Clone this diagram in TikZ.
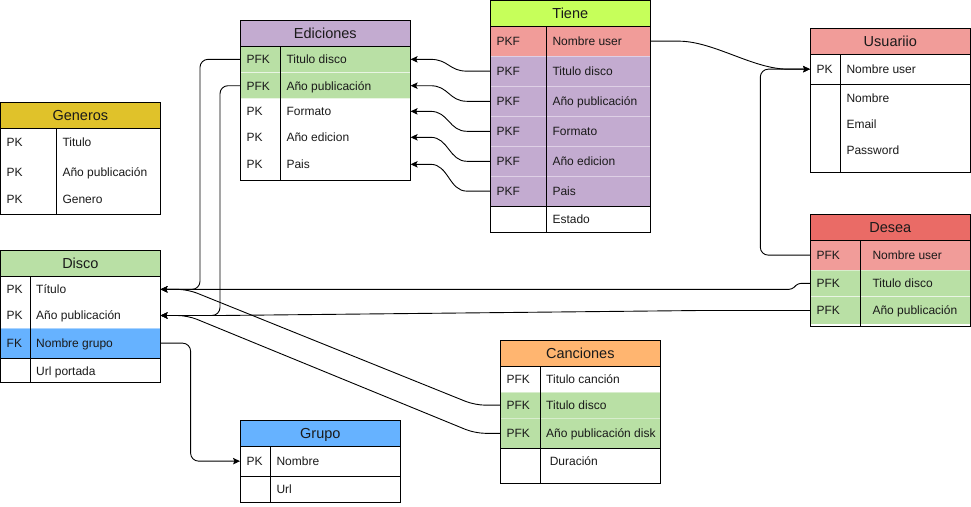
\documentclass[tikz,border=0pt]{standalone}
\usepackage{fontspec}
\setmainfont{Liberation Sans}
\usetikzlibrary{arrows.meta,calc}
\definecolor{cpurple}{HTML}{C3ABD0}
\definecolor{cgreen}{HTML}{B9E0A5}
\definecolor{credl}{HTML}{F19C99}
\definecolor{cred}{HTML}{EA6B66}
\definecolor{corange}{HTML}{FFB570}
\definecolor{cblue}{HTML}{66B2FF}
\definecolor{cgold}{HTML}{E0C22A}
\definecolor{clime}{HTML}{C6FF5A}
\definecolor{ctext}{HTML}{1A1A1A}
\newcommand{\tL}{0}\newcommand{\tR}{0}\newcommand{\tD}{0}\newcommand{\tF}{6}
\newcommand{\SetTab}[4]{\renewcommand{\tL}{#1}\renewcommand{\tR}{#2}\renewcommand{\tD}{#3}\renewcommand{\tF}{#4}}
\newcommand{\Head}[5]{%
  \node[headbox, fill=#4, minimum width={\tR-\tL}, minimum height={#3-#2}] (#1) at ({(\tL+\tR)/2},{(#2+#3)/2}) {#5};}
\newcommand{\Row}[6]{%
  \node[rowbox, fill=#4, minimum width={\tR-\tL}, minimum height={#3-#2}] (#1) at ({(\tL+\tR)/2},{(#2+#3)/2}) {};
  \node[rowtxt] (#1k) at ({\tL+6},{(#2+#3)/2+4.3}) {#5};
  \node[rowtxt] (#1f) at ({\tD+\tF},{(#2+#3)/2+4.3}) {#6};}
\newcommand{\Frame}[3]{%
  \draw[tline] (\tL,#1) rectangle (\tR,#3);
  \draw[tline] (\tL,#2) -- (\tR,#2);
  \draw[tline] (\tD,#2) -- (\tD,#3);}
\newcommand{\HLine}[1]{\draw[tline] (\tL,#1) -- (\tR,#1);}
\begin{document}
\begin{tikzpicture}[x=1pt,y=-1pt,
  headbox/.style={draw=none, inner sep=0pt, text height=10.4pt, text depth=0pt,
    font=\fontsize{14.5}{16}\selectfont, text=ctext},
  rowbox/.style={draw=white, draw opacity=0.45, line width=0.6pt, inner sep=0pt},
  rowtxt/.style={anchor=base west, inner sep=0pt, font=\fontsize{12}{14}\selectfont, text=ctext},
  tline/.style={draw=black, line width=1pt},
  conn/.style={draw=black, line width=0.9pt, -{Stealth[length=7pt,width=6.5pt,inset=1.5pt]}}]
\useasboundingbox (0,0) rectangle (971,506);

% ---------- Ediciones ----------
\SetTab{240.3}{410.3}{280.3}{6}
\Head{ed}{20.3}{46}{cpurple}{Ediciones}
\Row{ed1}{46}{72.7}{cgreen}{PFK}{Titulo disco}
\Row{ed2}{72.7}{98.7}{cgreen}{PFK}{Año publicación}
\Row{ed3}{98.7}{124}{none}{PK}{Formato}
\Row{ed4}{124.3}{150.3}{none}{PK}{Año edicion}
\Row{ed5}{151.3}{177.3}{none}{PK}{Pais}
\Frame{20.3}{46}{180.3}

% ---------- Generos ----------
\SetTab{0.5}{160.3}{56.7}{5.6}
\Head{ge}{102.7}{128.3}{cgold}{Generos}
\Row{ge1}{128.3}{157}{none}{PK}{Titulo}
\Row{ge2}{157}{187}{none}{PK}{Año publicación}
\Row{ge3}{185.4}{212}{none}{PK}{Genero}
\Frame{102.7}{128.3}{214}

% ---------- Tiene ----------
\SetTab{490.3}{650.3}{546.3}{6}
\Head{ti}{0.5}{26.3}{clime}{Tiene}
\Row{ti1}{26.3}{56}{credl}{PKF}{Nombre user}
\Row{ti2}{56}{86.3}{cpurple}{PKF}{Titulo disco}
\Row{ti3}{86.3}{116.3}{cpurple}{PKF}{Año publicación}
\Row{ti4}{116.3}{146.3}{cpurple}{PKF}{Formato}
\Row{ti5}{146.3}{176.3}{cpurple}{PKF}{Año edicion}
\Row{ti6}{176.3}{206}{cpurple}{PKF}{Pais}
\Row{ti7}{206}{232.3}{none}{}{Estado}
\Frame{0.5}{26.3}{232.3}
\HLine{206}

% ---------- Usuariio ----------
\SetTab{810.3}{970.3}{840.3}{6}
\Head{us}{28.3}{54}{credl}{Usuariio}
\Row{us1}{54}{84.3}{none}{PK}{Nombre user}
\Row{us2}{84.7}{110.7}{none}{}{Nombre}
\Row{us3}{110.7}{136.7}{none}{}{Email}
\Row{us4}{136.7}{162.7}{none}{}{Password}
\Frame{28.3}{54}{172.3}
\HLine{84.3}

% ---------- Desea ----------
\SetTab{810.3}{970.3}{860.3}{12}
\Head{de}{214.3}{240.3}{cred}{Desea}
\Row{de1}{240.3}{270}{credl}{PFK}{Nombre user}
\Row{de2}{270}{296.7}{cgreen}{PFK}{Titulo disco}
\Row{de3}{296.7}{324.3}{cgreen}{PFK}{Año publicación}
\Frame{214.3}{240.3}{326.3}

% ---------- Canciones ----------
\SetTab{500.3}{660.3}{540.3}{5.7}
\Head{ca}{340.3}{366.3}{corange}{Canciones}
\Row{ca1}{366.3}{392}{none}{PFK}{Titulo canción}
\Row{ca2}{392}{418.3}{cgreen}{PFK}{Titulo disco}
\Row{ca3}{418.3}{448.3}{cgreen}{PFK}{Año publicación disk}
\Row{ca4}{448.3}{475}{none}{}{\hspace{3.6pt}Duración}
\Frame{340.3}{366.3}{483.7}
\HLine{448.3}

% ---------- Disco ----------
\SetTab{0.5}{160.3}{30.3}{5.7}
\Head{di}{250.3}{276}{cgreen}{Disco}
\Row{di1}{276}{302.7}{none}{PK}{Título}
\Row{di2}{302.7}{328.3}{none}{PK}{Año publicación}
\Row{di3}{328.3}{358}{cblue}{FK}{Nombre grupo}
\Row{di4}{358}{385}{none}{}{Url portada}
\Frame{250.3}{276}{382.3}
\HLine{358}

% ---------- Grupo ----------
\SetTab{240.3}{400.3}{270.3}{6}
\Head{gr}{420.3}{446}{cblue}{Grupo}
\Row{gr1}{446}{476.3}{none}{PK}{Nombre}
\Row{gr2}{476.3}{502.3}{none}{}{Url}
\Frame{420.3}{446}{502.3}
\HLine{476.3}

% ---------- Connectors ----------
\foreach \s/\t in {ti2/ed1, ti3/ed2, ti4/ed3, ti5/ed4, ti6/ed5}{
  \draw[conn] (\s.west) -- ++(-23,0) .. controls +(-18,0) and +(18,0) .. ($(\t.east)+(20,0)$) -- (\t.east);
}
\draw[conn] (ti1.east) -- ++(28,0) .. controls +(35,0) and +(-35,0) .. ($(us1.west)+(-22,0)$) -- (us1.west);
\coordinate (jd) at (760.3,0);
\draw[conn, rounded corners=8] (de1.west) -| (jd |- us1.west) -- (us1.west);
\coordinate (jt1) at ($(de2.west)+(-12,0)$);
\coordinate (jt2) at ($(de2.west)+(-18,0)$);
\draw[conn, rounded corners=3] (de2.west) -- (jt1) -- (jt2 |- di1.east) -- (di1.east);
\draw[conn] (de3.west) -- ++(-110,0) -- ($(di2.east)+(60,0)$) -- (di2.east);
\draw[conn, rounded corners=8] (ed1.west) -- ($(ed1.west)+(-40,0)$) |- (di1.east);
\draw[conn, rounded corners=8] (ed2.west) -- ($(ed2.west)+(-20,0)$) |- (di2.east);
\draw[conn, rounded corners=10] (ca2.west) -- ++(-25,0) -- ($(di1.east)+(27,0)$) -- (di1.east);
\draw[conn, rounded corners=10] (ca3.west) -- ++(-25,0) -- ($(di2.east)+(27,0)$) -- (di2.east);
\draw[conn, rounded corners=8] (di3.east) -- ++(30,0) |- (gr1.west);
\end{tikzpicture}
\end{document}
